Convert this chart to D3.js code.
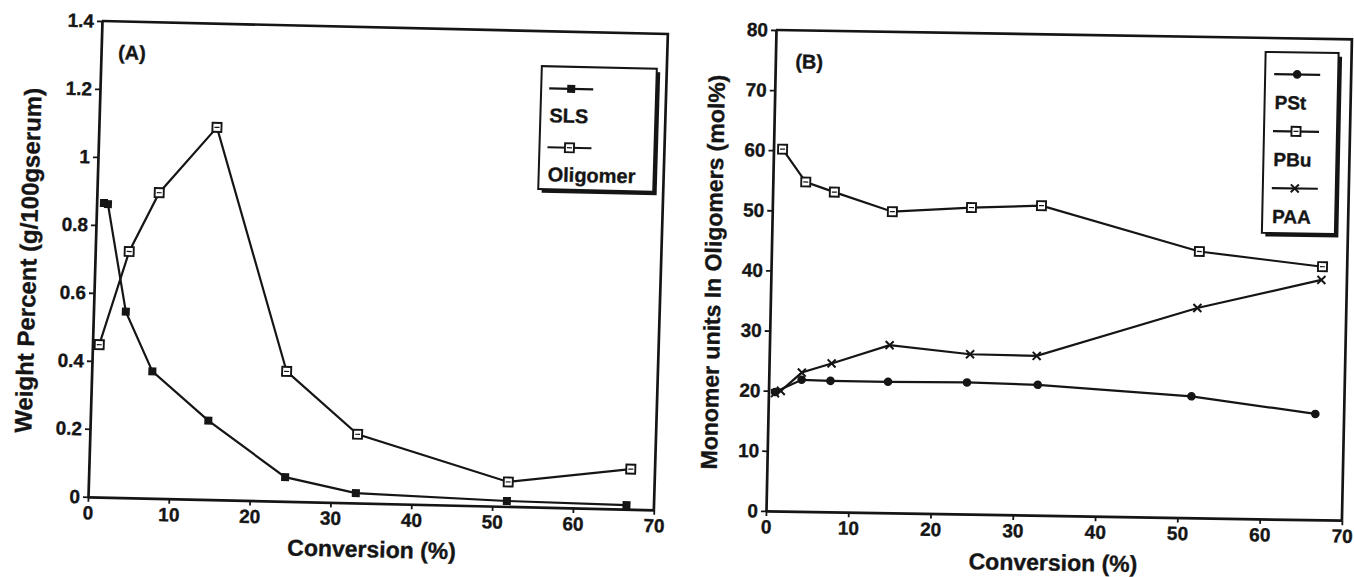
<!DOCTYPE html>
<html>
<head>
<meta charset="utf-8">
<script src="https://cdn.jsdelivr.net/npm/d3@7"></script>
<style>
  html, body { margin: 0; padding: 0; background: #fff; }
  svg { display: block; }
  text { font-family: "Liberation Sans", Arial, Helvetica, sans-serif; font-weight: bold; fill: #151515;
         stroke: #151515; stroke-width: 0.35px; }
</style>
</head>
<body>
<svg id="fig" width="1354" height="577"></svg>
<script>
// ---- Panel (A): weight percent vs. conversion ----
const slsConversion = [0.9, 1.4, 4.0, 7.5, 14.6, 24.3, 33.1, 51.8, 66.6];
const slsWeight = [0.865, 0.862, 0.547, 0.373, 0.232, 0.071, 0.029, 0.016, 0.012];
const oligomerConversion = [0.84, 4.2, 7.7, 14.6, 24.1, 33.1, 51.9, 67.0];
const oligomerWeight = [0.448, 0.724, 0.899, 1.095, 0.382, 0.202, 0.072, 0.118];
const weightTicks = [0, 0.2, 0.4, 0.6, 0.8, 1, 1.2, 1.4];

// ---- Panel (B): monomer units in oligomers vs. conversion ----
const pstConversion = [0.8, 4.0, 7.5, 14.5, 24.1, 32.7, 51.4, 66.5];
const pstMol = [19.8, 21.9, 21.8, 21.8, 21.9, 21.7, 20.2, 17.6];
const pbuConversion = [1.1, 4.0, 7.5, 14.6, 24.2, 32.7, 52.0, 67.0];
const pbuMol = [60.2, 54.8, 53.2, 50.1, 51.0, 51.5, 44.3, 42.1];
const paaConversion = [0.8, 1.5, 4.0, 7.6, 14.6, 24.4, 32.5, 51.9, 66.9];
const paaMol = [19.6, 20.0, 23.1, 24.7, 27.9, 26.6, 26.5, 34.9, 39.9];
const molTicks = [0, 10, 20, 30, 40, 50, 60, 70, 80];

const conversionTicks = [0, 10, 20, 30, 40, 50, 60, 70];

const INK = "#151515";
const svg = d3.select("#fig");

function unit(v) { const l = Math.hypot(v[0], v[1]); return [v[0] / l, v[1] / l]; }
function zip(xs, ys) { return xs.map((d, i) => [d, ys[i]]); }

function drawMarker(sel, type, s) {
  if (type === "filledSquare") {
    sel.append("rect").attr("x", -s / 2).attr("y", -s / 2).attr("width", s).attr("height", s)
      .attr("fill", INK);
  } else if (type === "openSquare") {
    sel.append("rect").attr("x", -s / 2).attr("y", -s / 2).attr("width", s).attr("height", s)
      .attr("fill", "#fff").attr("stroke", INK).attr("stroke-width", 1.9);
    sel.append("line").attr("x1", -s / 2 + 2).attr("x2", s / 2 - 2).attr("y1", 0).attr("y2", 0)
      .attr("stroke", INK).attr("stroke-width", 1.2);
  } else if (type === "filledCircle") {
    sel.append("circle").attr("r", s / 2 + 0.3).attr("fill", INK);
  } else if (type === "cross") {
    const h = s / 2;
    sel.append("path").attr("d", `M${-h},${-h}L${h},${h}M${-h},${h}L${h},${-h}`)
      .attr("stroke", INK).attr("stroke-width", 2).attr("fill", "none");
  }
}

function drawPanel(cfg) {
  const ux = unit(cfg.ex), uy = unit(cfg.ey);
  const g = svg.append("g")
    .attr("transform", `matrix(${ux[0]},${ux[1]},${uy[0]},${uy[1]},${cfg.origin[0]},${cfg.origin[1]})`);

  const x = d3.scaleLinear().domain([0, 70]).range([0, cfg.width]);
  const y = d3.scaleLinear().domain(cfg.yDomain).range([cfg.height, 0]);

  // top and right edges of the plot box
  g.append("path")
    .attr("d", `M${x(0)},${y(cfg.yDomain[1])}H${x(70)}V${y(cfg.yDomain[0])}`)
    .attr("fill", "none").attr("stroke", INK).attr("stroke-width", 2.7);

  const yAxis = g.append("g")
    .call(d3.axisLeft(y).tickValues(cfg.yTicks).tickFormat(d => String(d))
      .tickSize(5).tickSizeOuter(0).tickPadding(3));
  const xAxis = g.append("g").attr("transform", `translate(0,${cfg.height})`)
    .call(d3.axisBottom(x).tickValues(conversionTicks).tickFormat(d => String(d))
      .tickSize(5).tickSizeOuter(0).tickPadding(4));

  [yAxis, xAxis].forEach(a => {
    a.attr("font-family", null).attr("font-size", null);
    a.select(".domain").attr("stroke", INK).attr("stroke-width", 2.7);
    a.selectAll(".tick line").attr("stroke", INK).attr("stroke-width", 1.8);
    a.selectAll(".tick text").attr("fill", INK).style("font-size", "19px");
  });

  // axis titles
  g.append("text")
    .attr("x", cfg.xTitlePos[0]).attr("y", cfg.xTitlePos[1])
    .attr("text-anchor", "middle").attr("dominant-baseline", "central")
    .style("font-size", "23px").text("Conversion (%)");
  g.append("text")
    .attr("transform", `translate(${cfg.yTitlePos[0]},${cfg.yTitlePos[1]}) rotate(-90)`)
    .attr("text-anchor", "middle").attr("dominant-baseline", "central")
    .style("font-size", cfg.yTitleSize + "px").text(cfg.yTitle);

  // panel tag
  g.append("text").attr("x", cfg.tagPos[0]).attr("y", cfg.tagPos[1])
    .attr("dominant-baseline", "central").style("font-size", "20px").text(cfg.tag);

  // series
  const line = d3.line().x(d => x(d[0])).y(d => y(d[1]));
  cfg.series.forEach(s => {
    const pts = zip(s.xs, s.ys);
    g.append("path").datum(pts).attr("d", line)
      .attr("fill", "none").attr("stroke", INK).attr("stroke-width", 2.2);
    g.append("g").selectAll("g").data(pts).join("g")
      .attr("transform", d => `translate(${x(d[0])},${y(d[1])})`)
      .each(function () { drawMarker(d3.select(this), s.marker, s.size); });
  });

  // legend box with drop shadow
  const L = cfg.legend;
  const lg = g.append("g").attr("transform", `translate(${L.x},${L.y})`);
  lg.append("rect").attr("x", 3.5).attr("y", 3.5).attr("width", L.w).attr("height", L.h).attr("fill", INK);
  lg.append("rect").attr("width", L.w).attr("height", L.h)
    .attr("fill", "#fff").attr("stroke", INK).attr("stroke-width", 2);
  cfg.series.forEach((s, i) => {
    const ly = L.first + i * L.step;
    lg.append("line").attr("x1", L.pad).attr("x2", L.pad + L.lineLen).attr("y1", ly).attr("y2", ly)
      .attr("stroke", INK).attr("stroke-width", 2.2);
    const m = lg.append("g").attr("transform", `translate(${L.pad + L.lineLen / 2},${ly})`);
    drawMarker(m, s.marker, s.size);
    lg.append("text").attr("x", L.pad + 1).attr("y", ly + L.textGap)
      .attr("dominant-baseline", "central").style("font-size", L.font + "px").text(s.label);
  });
}

drawPanel({
  origin: [102, 21], ex: [566, 13], ey: [-14, 476], width: 566, height: 476,
  yDomain: [0, 1.4], yTicks: weightTicks,
  yTitle: "Weight Percent (g/100gserum)", yTitleSize: 24,
  xTitlePos: [285, 522], yTitlePos: [-67, 241], tag: "(A)", tagPos: [17, 31],
  series: [
    { label: "SLS", xs: slsConversion, ys: slsWeight, marker: "filledSquare", size: 8 },
    { label: "Oligomer", xs: oligomerConversion, ys: oligomerWeight, marker: "openSquare", size: 9 }
  ],
  legend: { x: 441, y: 35, w: 115, h: 123, pad: 8, lineLen: 44, first: 22, step: 59, textGap: 27, font: 20 }
});

drawPanel({
  origin: [776, 30], ex: [575.7, 9.3], ey: [-10, 481], width: 576, height: 481,
  yDomain: [0, 80], yTicks: molTicks,
  yTitle: "Monomer units In Oligomers (mol%)", yTitleSize: 23,
  xTitlePos: [288, 528], yTitlePos: [-58, 243], tag: "(B)", tagPos: [20, 31],
  series: [
    { label: "PSt", xs: pstConversion, ys: pstMol, marker: "filledCircle", size: 8 },
    { label: "PBu", xs: pbuConversion, ys: pbuMol, marker: "openSquare", size: 9 },
    { label: "PAA", xs: paaConversion, ys: paaMol, marker: "cross", size: 8 }
  ],
  legend: { x: 490, y: 14, w: 73, h: 181, pad: 9, lineLen: 46, first: 22, step: 57, textGap: 28.5, font: 19 }
});
</script>
</body>
</html>
